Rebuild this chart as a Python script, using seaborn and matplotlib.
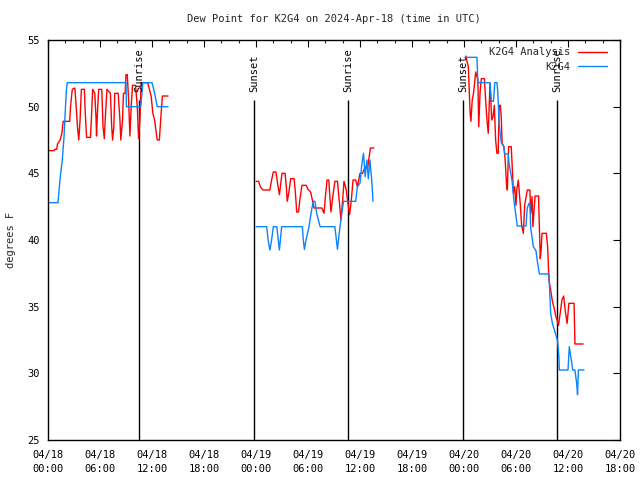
import numpy as np
import pandas as pd
import matplotlib
matplotlib.use("Agg")
import matplotlib.pyplot as plt
import matplotlib.dates as mdates
import seaborn as sns

# ---- data (hours after 2024-04-18 00:00 UTC, dew point degF) ----
blue_t1 = [0.0, 1.15, 1.38, 1.65, 1.85, 1.96, 2.12, 2.23, 9.0, 9.05, 10.7, 10.95, 12.0, 12.2, 12.4, 12.6, 13.85]
blue_v1 = [42.8, 42.8, 44.5, 46.0, 47.75, 49.25, 51.25, 51.8, 51.8, 50.0, 50.0, 51.8, 51.8, 51.3, 50.7, 50.0, 50.0]

blue_t2 = [24.0, 25.23, 25.4, 25.6, 25.8, 26.0, 26.4, 26.7, 26.96, 29.35, 29.46, 29.58, 29.77, 30.12, 30.35,
           30.6, 30.8, 31.0, 31.4, 33.1, 33.4, 33.6, 33.9, 34.1, 35.5, 35.7, 36.0, 36.2, 36.4, 36.6, 36.8,
           36.96, 37.15, 37.35, 37.5]
blue_v2 = [41.0, 41.0, 40.0, 39.25, 40.0, 41.0, 41.0, 39.25, 41.0, 41.0, 40.0, 39.3, 40.0, 41.0, 42.0,
           42.9, 42.9, 42.0, 41.0, 41.0, 39.3, 40.5, 42.0, 42.9, 42.9, 44.0, 44.25, 45.6, 46.5, 44.75, 46.0,
           44.6, 46.0, 44.5, 42.9]

blue_t3 = [48.1, 49.5, 49.6, 51.0, 51.15, 51.4, 51.55, 51.8, 51.9, 52.05, 52.3, 52.6, 52.7, 53.1, 53.2,
           53.55, 53.8, 54.15, 55.15, 55.3, 55.5, 55.6, 55.7, 56.0, 56.3, 56.5, 56.7, 57.8, 58.0, 58.2,
           58.5, 58.8, 58.95, 59.0, 60.0, 60.15, 60.55, 60.8, 61.0, 61.1, 61.2, 61.85]
blue_v3 = [53.7, 53.7, 51.8, 51.8, 50.4, 50.4, 51.8, 51.8, 51.1, 48.75, 47.3, 47.0, 46.45, 46.45, 45.75,
           44.4, 42.75, 41.05, 41.05, 42.4, 42.75, 42.75, 40.9, 39.5, 39.2, 38.25, 37.45, 37.45, 34.5, 33.75,
           33.1, 32.45, 31.25, 30.25, 30.25, 32.0, 30.25, 30.25, 29.25, 28.4, 30.25, 30.25]

red_t1 = [0.0, 0.7, 0.75, 1.0, 1.1, 1.4, 1.6, 1.75, 2.5, 2.6, 2.8, 3.1, 3.2, 3.4, 3.55, 3.7, 3.85, 4.2,
          4.3, 4.45, 4.9, 5.0, 5.15, 5.4, 5.55, 5.6, 5.7, 5.85, 6.2, 6.35, 6.5, 6.6, 6.8, 7.2, 7.35, 7.45,
          7.6, 7.7, 8.1, 8.3, 8.4, 8.6, 8.7, 8.9, 9.0, 9.15, 9.3, 9.45, 9.6, 9.75, 10.1, 10.3, 10.45, 10.6,
          10.75, 11.5, 11.7, 11.9, 12.1, 12.3, 12.6, 12.85, 13.0, 13.2, 13.85]
red_v1 = [46.7, 46.7, 46.8, 46.8, 47.2, 47.5, 48.0, 48.9, 48.9, 50.0, 51.3, 51.4, 50.5, 48.5, 47.5, 49.0,
          51.3, 51.3, 49.5, 47.7, 47.7, 49.0, 51.3, 51.0, 49.0, 47.8, 49.5, 51.3, 51.3, 48.5, 47.6, 49.0,
          51.3, 51.0, 48.5, 47.5, 48.5, 51.0, 51.0, 49.0, 47.5, 49.0, 51.0, 51.0, 52.4, 52.4, 50.5, 47.8,
          50.0, 51.6, 51.6, 50.0, 47.6, 49.0, 51.8, 51.8, 51.3, 50.8, 49.5, 49.0, 47.5, 47.5, 49.0, 50.8, 50.8]

red_t2 = [24.0, 24.3, 24.5, 24.8, 25.6, 25.8, 26.0, 26.3, 26.5, 26.7, 26.85, 27.0, 27.35, 27.5, 27.6, 27.8,
          28.0, 28.4, 28.55, 28.7, 28.9, 29.1, 29.3, 29.8, 30.0, 30.3, 30.5, 30.7, 31.6, 31.85, 32.0, 32.2,
          32.4, 32.55, 32.65, 32.85, 33.1, 33.4, 33.6, 33.8, 34.0, 34.15, 34.4, 34.6, 34.8, 35.0, 35.2, 35.5,
          35.7, 36.0, 36.3, 36.6, 36.9, 37.2, 37.6]
red_v2 = [44.4, 44.4, 44.0, 43.75, 43.75, 44.5, 45.1, 45.1, 44.2, 43.4, 44.2, 45.0, 45.0, 44.0, 42.9, 43.6,
          44.6, 44.6, 43.5, 42.1, 42.1, 43.2, 44.1, 44.1, 43.8, 43.6, 43.0, 42.4, 42.4, 42.0, 43.2, 44.5,
          44.5, 43.0, 42.1, 43.2, 44.4, 44.4, 43.0, 41.5, 43.0, 44.4, 43.8, 42.8, 41.9, 43.0, 44.5, 44.5,
          44.0, 45.0, 45.0, 45.5, 45.5, 46.9, 46.9]

red_t3 = [48.2, 48.5, 48.7, 48.8, 48.95, 49.1, 49.35, 49.6, 49.7, 49.85, 50.0, 50.35, 50.5, 50.65, 50.8,
          51.0, 51.2, 51.35, 51.5, 51.65, 51.8, 51.95, 52.05, 52.2, 52.3, 52.4, 52.6, 52.75, 52.9, 53.0,
          53.15, 53.45, 53.6, 53.7, 53.85, 54.0, 54.1, 54.27, 54.5, 54.65, 54.85, 55.0, 55.3, 55.6, 55.7,
          55.85, 55.95, 56.2, 56.6, 56.7, 56.8, 56.9, 57.0, 57.5, 57.65, 57.8, 58.0, 58.2, 58.4, 58.6,
          58.75, 58.9, 59.1, 59.3, 59.5, 59.7, 59.9, 60.1, 60.7, 60.8, 61.75]
red_v3 = [53.8, 53.0, 49.6, 48.9, 50.5, 51.0, 52.6, 52.0, 48.5, 51.0, 52.1, 52.1, 50.5, 49.0, 48.0,
          51.75, 49.0, 49.25, 50.1, 47.5, 46.5, 46.5, 50.1, 50.1, 49.2, 47.25, 47.0, 46.0, 44.25, 43.75,
          47.0, 47.0, 45.0, 43.5, 44.0, 42.6, 43.8, 44.5, 42.6, 41.1, 40.5, 42.6, 43.75, 43.75, 42.0,
          43.25, 41.0, 43.3, 43.3, 40.9, 38.6, 39.25, 40.5, 40.5, 39.5, 37.0, 36.25, 35.4, 34.9, 34.25,
          34.0, 33.6, 34.5, 35.5, 35.8, 34.6, 33.75, 35.25, 35.25, 32.2, 32.2]

series_names = ["K2G4 Analysis", "K2G4"]
series_colors = ["#ff0000", "#0a84ff"]
sun_labels = ["Sunrise", "Sunset", "Sunrise", "Sunset", "Sunrise"]
sun_hours = [10.55, 23.77, 34.65, 47.92, 58.75]
y_ticks = [25, 30, 35, 40, 45, 50, 55]
title = "Dew Point for K2G4 on 2024-Apr-18 (time in UTC)"
ylabel = "degrees F"

# ---- build long table ----
base = pd.Timestamp("2024-04-18 00:00")
frames = []
for name, segs in [
    ("K2G4 Analysis", [(red_t1, red_v1), (red_t2, red_v2), (red_t3, red_v3)]),
    ("K2G4", [(blue_t1, blue_v1), (blue_t2, blue_v2), (blue_t3, blue_v3)]),
]:
    for i, (t, v) in enumerate(segs):
        frames.append(pd.DataFrame({
            "time": base + pd.to_timedelta(t, unit="h"),
            "value": v,
            "series": name,
            "seg": f"{name}-{i}",
        }))
df = pd.concat(frames, ignore_index=True)

sns.set_style("white")
plt.rcParams["font.family"] = ["DejaVu Sans Mono"]
plt.rcParams["font.size"] = 7.5

fig = plt.figure(figsize=(6.4, 4.8), dpi=100)
ax = fig.add_axes([48 / 640, 40 / 480, 572 / 640, 400 / 480])

sns.lineplot(data=df, x="time", y="value", hue="series", units="seg", estimator=None,
             sort=False, hue_order=series_names, palette=series_colors, linewidth=1.0, ax=ax)

# sunrise / sunset markers
for lab, h in zip(sun_labels, sun_hours):
    t = base + pd.Timedelta(hours=h)
    ax.vlines(t, 25, 50.5, color="black", linewidth=1.0, zorder=1)
    ax.text(t, 51.1, lab, rotation=90, ha="center", va="bottom", fontsize=7.5, color="black")

ax.set_xlim(base, base + pd.Timedelta(hours=66))
ax.set_ylim(25, 55)
ax.set_yticks(y_ticks)
ax.xaxis.set_major_locator(mdates.HourLocator(byhour=[0, 6, 12, 18]))
ax.xaxis.set_minor_locator(mdates.HourLocator(byhour=range(0, 24, 2)))
ax.xaxis.set_major_formatter(mdates.DateFormatter("%m/%d\n%H:%M"))
ax.tick_params(axis="both", which="major", direction="in", length=5, width=0.8,
               top=True, right=True, labelsize=7.5, colors="black", pad=6)
ax.tick_params(axis="x", which="major", pad=7)
ax.tick_params(axis="x", which="minor", direction="in", length=2.5, width=0.8, top=True)
for s in ax.spines.values():
    s.set_visible(True)
    s.set_color("black")
    s.set_linewidth(1.0)

ax.set_xlabel("")
ax.set_ylabel(ylabel, fontsize=7.5, labelpad=8)
ax.set_title(title, fontsize=7.5, pad=13)

handles, labels = ax.get_legend_handles_labels()
ax.legend(handles, labels, loc="upper right", bbox_to_anchor=(612 / 640, 1 - 42 / 480),
          bbox_transform=fig.transFigure, frameon=False, markerfirst=False,
          handlelength=2.8, handletextpad=0.7, labelspacing=0.45, borderpad=0, fontsize=7.5)

fig.canvas.draw()
for lbl in ax.get_xticklabels():
    lbl.set_linespacing(1.55)

fig.savefig("out.png", dpi=100)
